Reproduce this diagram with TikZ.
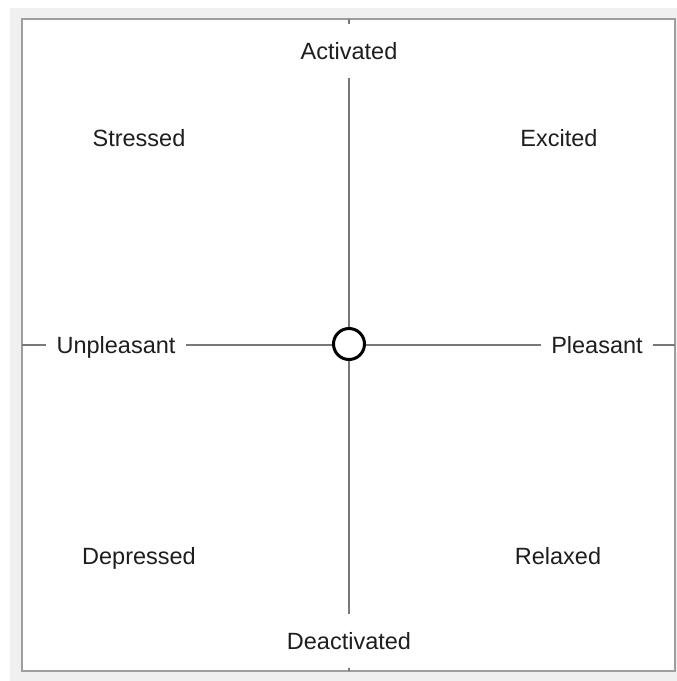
\documentclass[tikz,border=0pt]{standalone}
\usepackage{fontspec}
\setmainfont{Liberation Sans}
\usetikzlibrary{positioning}
\definecolor{cPanel}{RGB}{240,240,240}
\definecolor{cFrame}{RGB}{158,158,158}
\definecolor{cAxis}{RGB}{120,120,120}
\definecolor{cInk}{RGB}{30,30,30}
\tikzset{
  basetext/.style={font=\fontsize{23.5}{28}\selectfont,text=cInk,
                   text height=17pt,text depth=0pt},
  quadnode/.style={basetext,inner sep=0pt},
  vaxnode/.style={basetext,inner xsep=4pt,inner ysep=18pt},
  haxnode/.style={basetext,inner xsep=10pt,inner ysep=4pt},
  hubnode/.style={circle,draw=black,line width=3pt,fill=white,
                  minimum size=31pt,inner sep=0pt},
  axisline/.style={draw=cAxis,line width=1.1pt}
}

\begin{document}
\begin{tikzpicture}[x=1pt,y=-1pt]

  % page, grey panel and white frame
  \fill[white] (0,0) rectangle (677,681);
  \useasboundingbox (0,0) rectangle (677,681);
  \fill[cPanel] (10,8) rectangle (677,681);
  \draw[fill=white,draw=cFrame,line width=2pt] (22,19) rectangle (675,671);

  % ends of the axes on the frame
  \coordinate (topend) at (349,19);
  \coordinate (botend) at (349,671);
  \coordinate (leftend) at (22,345);
  \coordinate (rightend) at (675,345);

  % centre and axis labels
  \node[hubnode] (hub) at (349,344) {};
  \node[vaxnode] (act) at (349,51) {Activated};
  \node[vaxnode] (deact) at (349,641) {Deactivated};
  \node[haxnode] (unpl) at (116,345) {Unpleasant};
  \node[haxnode] (pleas) at (597,345) {Pleasant};

  % quadrant labels
  \node[quadnode] (stress) at (139,137.5) {Stressed};
  \node[quadnode] (excite) at (559,137.5) {Excited};
  \node[quadnode] (depress) at (139,556) {Depressed};
  \node[quadnode] (relax) at (558,556) {Relaxed};

  % axes
  \draw[axisline] (topend) -- (act);
  \draw[axisline] (act) -- (hub);
  \draw[axisline] (hub) -- (deact);
  \draw[axisline] (deact) -- (botend);
  \draw[axisline] (leftend) -- (unpl);
  \draw[axisline] (unpl) -- (hub.west |- unpl);
  \draw[axisline] (hub.east |- pleas) -- (pleas);
  \draw[axisline] (pleas) -- (rightend);

\end{tikzpicture}
\end{document}
